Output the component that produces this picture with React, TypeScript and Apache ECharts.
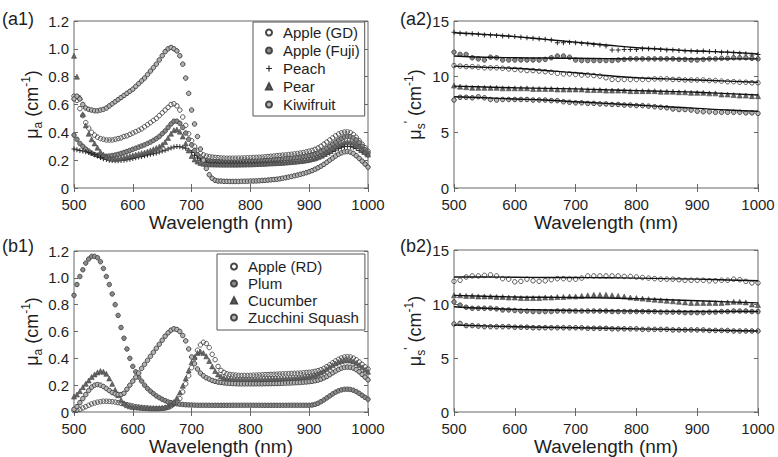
import React, { useEffect, useRef } from 'react';
import * as echarts from 'echarts';

// Wavelength sampling grids (nm)
const WL5: number[] = Array.from({ length: 101 }, (_, i) => 500 + 5 * i);
const WL10: number[] = Array.from({ length: 51 }, (_, i) => 500 + 10 * i);
const WL50: number[] = [500, 550, 600, 650, 700, 750, 800, 850, 900, 950, 1000];

// ---------- (a1) absorption, 500..1000 step 5 ----------
const a1AppleGD = [
  0.66, 0.63, 0.57, 0.52, 0.47, 0.43, 0.4, 0.38, 0.365, 0.355,
  0.35, 0.345, 0.345, 0.345, 0.35, 0.355, 0.36, 0.37, 0.375, 0.385,
  0.395, 0.405, 0.415, 0.425, 0.44, 0.455, 0.47, 0.485, 0.5, 0.52,
  0.54, 0.56, 0.58, 0.6, 0.605, 0.59, 0.56, 0.51, 0.45, 0.39,
  0.34, 0.3, 0.27, 0.25, 0.238, 0.23, 0.225, 0.222, 0.22, 0.218,
  0.216, 0.215, 0.214, 0.214, 0.214, 0.214, 0.215, 0.215, 0.216, 0.217,
  0.218, 0.219, 0.22, 0.221, 0.222, 0.224, 0.226, 0.228, 0.23, 0.232,
  0.234, 0.236, 0.238, 0.24, 0.242, 0.245, 0.248, 0.251, 0.255, 0.26,
  0.265, 0.27, 0.278, 0.288, 0.3, 0.315, 0.33, 0.345, 0.36, 0.375,
  0.388, 0.397, 0.402, 0.403, 0.398, 0.385, 0.365, 0.34, 0.315, 0.29,
  0.265,
];
const a1AppleFuji = [
  0.38, 0.35, 0.32, 0.3, 0.28, 0.265, 0.25, 0.24, 0.235, 0.23,
  0.228, 0.228, 0.23, 0.233, 0.237, 0.242, 0.248, 0.255, 0.262, 0.27,
  0.278, 0.286, 0.294, 0.302, 0.31, 0.32, 0.33, 0.342, 0.355, 0.37,
  0.39, 0.41, 0.435, 0.46, 0.48, 0.48, 0.465, 0.435, 0.395, 0.35,
  0.31, 0.27, 0.24, 0.22, 0.205, 0.197, 0.192, 0.19, 0.188, 0.187,
  0.186, 0.185, 0.185, 0.185, 0.185, 0.185, 0.186, 0.187, 0.188, 0.189,
  0.19, 0.191, 0.192, 0.193, 0.194, 0.195, 0.197, 0.199, 0.201, 0.203,
  0.205, 0.207, 0.209, 0.211, 0.213, 0.215, 0.218, 0.221, 0.224, 0.228,
  0.232, 0.237, 0.243, 0.25, 0.26, 0.272, 0.285, 0.3, 0.315, 0.33,
  0.345, 0.357, 0.366, 0.37, 0.368, 0.36, 0.345, 0.325, 0.3, 0.275,
  0.25,
];
const a1Peach = [
  0.28, 0.275, 0.27, 0.265, 0.26, 0.255, 0.25, 0.24, 0.23, 0.22,
  0.21, 0.205, 0.2, 0.197, 0.195, 0.195, 0.197, 0.2, 0.203, 0.207,
  0.212, 0.217, 0.222, 0.227, 0.232, 0.237, 0.242, 0.247, 0.252, 0.258,
  0.265, 0.272, 0.28, 0.288, 0.295, 0.298, 0.297, 0.293, 0.285, 0.272,
  0.255, 0.235, 0.215, 0.2, 0.19, 0.185, 0.182, 0.18, 0.179, 0.178,
  0.178, 0.177, 0.177, 0.177, 0.177, 0.177, 0.177, 0.177, 0.177, 0.177,
  0.177, 0.177, 0.178, 0.178, 0.178, 0.179, 0.179, 0.18, 0.18, 0.181,
  0.182, 0.183, 0.184, 0.185, 0.186, 0.188, 0.19, 0.192, 0.194, 0.197,
  0.2, 0.204, 0.209, 0.215, 0.222, 0.23, 0.24, 0.25, 0.262, 0.273,
  0.283, 0.292, 0.298, 0.3, 0.298, 0.292, 0.283, 0.27, 0.257, 0.245,
  0.235,
];
const a1Pear = [
  0.95, 0.8, 0.65, 0.53, 0.45, 0.39, 0.35, 0.32, 0.29, 0.26,
  0.24, 0.225, 0.215, 0.21, 0.21, 0.212, 0.215, 0.22, 0.225, 0.23,
  0.235, 0.24, 0.245, 0.25, 0.255, 0.262, 0.27, 0.278, 0.287, 0.297,
  0.31, 0.33, 0.36, 0.39, 0.415, 0.42, 0.405, 0.37, 0.32, 0.27,
  0.23, 0.205, 0.19, 0.18, 0.175, 0.172, 0.17, 0.17, 0.169, 0.169,
  0.168, 0.168, 0.168, 0.168, 0.168, 0.168, 0.168, 0.169, 0.169, 0.17,
  0.17, 0.171, 0.172, 0.173, 0.174, 0.175, 0.176, 0.177, 0.178, 0.179,
  0.18, 0.181, 0.183, 0.185, 0.187, 0.189, 0.191, 0.193, 0.196, 0.199,
  0.203, 0.208, 0.214, 0.222, 0.232, 0.244, 0.258, 0.272, 0.287, 0.3,
  0.312, 0.322, 0.33, 0.333, 0.332, 0.326, 0.315, 0.3, 0.28, 0.26,
  0.24,
];
const a1Kiwi = [
  0.64, 0.66, 0.64, 0.6, 0.575, 0.565, 0.56, 0.555, 0.555, 0.56,
  0.565, 0.575, 0.59, 0.605, 0.62, 0.635, 0.65, 0.665, 0.68, 0.695,
  0.71, 0.73, 0.75, 0.77, 0.79, 0.815, 0.84, 0.865, 0.89, 0.92,
  0.95, 0.98, 1.0, 1.01, 1.0, 0.985, 0.95, 0.89, 0.79, 0.68,
  0.56, 0.46, 0.37, 0.28, 0.2, 0.14, 0.095, 0.07, 0.055, 0.05,
  0.05, 0.048, 0.048, 0.047, 0.047, 0.047, 0.047, 0.048, 0.048, 0.049,
  0.05, 0.05, 0.051, 0.052, 0.054, 0.055, 0.057, 0.059, 0.061, 0.063,
  0.066, 0.07, 0.074, 0.078, 0.083, 0.088, 0.093, 0.098, 0.104, 0.11,
  0.117, 0.125, 0.135, 0.145, 0.157, 0.17, 0.185, 0.2, 0.215, 0.23,
  0.243, 0.253, 0.26, 0.262, 0.258, 0.248, 0.232, 0.213, 0.193, 0.172,
  0.15,
];

// ---------- (b1) absorption, 500..1000 step 5 ----------
const b1AppleRD = [
  0.01, 0.015, 0.02, 0.03, 0.04, 0.05, 0.06, 0.067, 0.073, 0.077,
  0.08, 0.08, 0.079, 0.077, 0.074, 0.07, 0.065, 0.06, 0.055, 0.05,
  0.045, 0.04, 0.037, 0.034, 0.032, 0.03, 0.028, 0.027, 0.026, 0.026,
  0.027, 0.03, 0.035, 0.045, 0.06, 0.075, 0.1, 0.15, 0.21, 0.27,
  0.33, 0.4, 0.46, 0.5, 0.52, 0.51, 0.48, 0.43, 0.39, 0.34,
  0.31, 0.295, 0.285, 0.28, 0.277, 0.275, 0.273, 0.272, 0.272, 0.272,
  0.273, 0.274, 0.275, 0.276, 0.277, 0.278, 0.279, 0.28, 0.281, 0.282,
  0.283, 0.284, 0.285, 0.286, 0.287, 0.288, 0.289, 0.29, 0.292, 0.294,
  0.296, 0.299, 0.303, 0.308, 0.315, 0.325, 0.338, 0.352, 0.367, 0.381,
  0.393, 0.403, 0.41, 0.412, 0.41, 0.402, 0.39, 0.373, 0.355, 0.337,
  0.32,
];
const b1Plum = [
  0.87, 0.95, 1.01, 1.06, 1.11, 1.14, 1.16, 1.16, 1.15, 1.12,
  1.07, 1.01, 0.95, 0.88, 0.8, 0.72, 0.63, 0.55, 0.47, 0.4,
  0.34, 0.3, 0.26, 0.23, 0.2, 0.175, 0.155, 0.137, 0.12, 0.107,
  0.095, 0.085, 0.075, 0.07, 0.065, 0.061, 0.058, 0.056, 0.054, 0.053,
  0.052, 0.051, 0.05, 0.05, 0.05, 0.05, 0.05, 0.05, 0.05, 0.05,
  0.05, 0.05, 0.05, 0.05, 0.05, 0.05, 0.05, 0.05, 0.05, 0.05,
  0.05, 0.05, 0.05, 0.05, 0.05, 0.05, 0.05, 0.05, 0.05, 0.05,
  0.05, 0.05, 0.05, 0.05, 0.05, 0.05, 0.05, 0.05, 0.05, 0.05,
  0.05, 0.052, 0.057, 0.065, 0.077, 0.09, 0.105, 0.12, 0.135, 0.148,
  0.158, 0.165, 0.169, 0.17, 0.168, 0.162, 0.152, 0.139, 0.124, 0.109,
  0.095,
];
const b1Cucumber = [
  0.115, 0.13, 0.155, 0.185, 0.21, 0.235, 0.26, 0.28, 0.295, 0.305,
  0.3, 0.285, 0.25, 0.21, 0.165, 0.125, 0.09, 0.065, 0.05, 0.042,
  0.038, 0.035, 0.033, 0.031, 0.03, 0.029, 0.028, 0.028, 0.028, 0.029,
  0.031, 0.035, 0.042, 0.055, 0.075, 0.105, 0.145, 0.195, 0.25, 0.31,
  0.37, 0.41, 0.44, 0.45, 0.44, 0.415, 0.38, 0.34, 0.305, 0.28,
  0.265, 0.255, 0.25, 0.247, 0.245, 0.244, 0.243, 0.243, 0.243, 0.243,
  0.243, 0.243, 0.244, 0.244, 0.245, 0.245, 0.246, 0.246, 0.247, 0.247,
  0.248, 0.249, 0.25, 0.251, 0.252, 0.254, 0.256, 0.258, 0.26, 0.263,
  0.266, 0.27, 0.276, 0.284, 0.294, 0.306, 0.32, 0.335, 0.35, 0.362,
  0.372, 0.38, 0.385, 0.386, 0.384, 0.377, 0.366, 0.35, 0.333, 0.315,
  0.3,
];
const b1Zucchini = [
  0.02, 0.04, 0.07, 0.1, 0.13, 0.16, 0.185, 0.2, 0.205, 0.2,
  0.19, 0.175, 0.16, 0.145, 0.135, 0.13, 0.13, 0.14, 0.17, 0.2,
  0.23, 0.26, 0.29, 0.325, 0.355, 0.385, 0.415, 0.445, 0.475, 0.505,
  0.535, 0.565, 0.59, 0.61, 0.62, 0.615, 0.6, 0.57, 0.53, 0.47,
  0.41, 0.36, 0.32, 0.29, 0.27, 0.255, 0.245, 0.235, 0.228, 0.223,
  0.22, 0.217, 0.215, 0.213, 0.212, 0.211, 0.21, 0.21, 0.21, 0.21,
  0.21, 0.21, 0.21, 0.21, 0.21, 0.211, 0.211, 0.212, 0.212, 0.213,
  0.213, 0.214, 0.215, 0.216, 0.217, 0.218, 0.219, 0.22, 0.222, 0.224,
  0.226, 0.229, 0.233, 0.238, 0.245, 0.254, 0.265, 0.278, 0.292, 0.305,
  0.317, 0.327, 0.333, 0.335, 0.333, 0.327, 0.316, 0.3, 0.28, 0.26,
  0.24,
];

// ---------- (a2) reduced scattering, 500..1000 step 10 ----------
const a2S1 = [
  14.0, 13.9, 13.85, 13.85, 13.8, 13.75, 13.75, 13.7, 13.65, 13.62,
  13.6, 13.55, 13.5, 13.45, 13.4, 13.35, 13.3, 13.05, 13.05, 13.1,
  13.05, 13.0, 12.95, 12.9, 12.85, 12.75, 12.4, 12.4, 12.45, 12.45,
  12.45, 12.5, 12.5, 12.5, 12.45, 12.4, 12.4, 12.35, 12.3, 12.3,
  12.25, 12.3, 12.25, 12.25, 12.2, 12.2, 12.15, 12.1, 12.05, 11.95,
  12.0,
];
const a2S2 = [
  12.2, 12.0, 12.0, 11.7, 11.6, 11.5, 11.75, 11.7, 11.5, 11.5,
  11.5, 11.5, 11.5, 11.5, 11.5, 11.55, 11.7, 11.85, 11.85, 11.75,
  11.5, 11.45, 11.45, 11.45, 11.45, 11.45, 11.45, 11.5, 11.55, 11.6,
  11.6, 11.6, 11.6, 11.6, 11.6, 11.6, 11.6, 11.55, 11.55, 11.5,
  11.5, 11.55, 11.6, 11.6, 11.65, 11.65, 11.7, 11.7, 11.7, 11.65,
  11.6,
];
const a2S3 = [
  11.0, 10.95, 10.9, 10.9, 10.85, 10.8, 10.8, 10.8, 10.75, 10.7,
  10.65, 10.6, 10.55, 10.55, 10.5, 10.45, 10.4, 10.3, 10.25, 10.25,
  10.2, 10.15, 10.15, 10.1, 10.05, 9.9, 9.75, 9.75, 9.75, 9.75,
  9.75, 9.75, 9.75, 9.8, 9.8, 9.8, 9.75, 9.75, 9.7, 9.7,
  9.7, 9.7, 9.65, 9.65, 9.6, 9.55, 9.55, 9.5, 9.5, 9.45,
  9.45,
];
const a2S4 = [
  9.2, 9.1, 9.05, 9.0, 9.0, 9.0, 9.0, 9.0, 8.95, 8.95,
  8.95, 8.95, 8.95, 8.9, 8.9, 8.9, 8.9, 8.85, 8.85, 8.85,
  8.85, 8.85, 8.8, 8.8, 8.8, 8.75, 8.75, 8.75, 8.75, 8.7,
  8.7, 8.7, 8.7, 8.7, 8.65, 8.65, 8.65, 8.6, 8.6, 8.55,
  8.55, 8.55, 8.5, 8.5, 8.4, 8.4, 8.35, 8.3, 8.3, 8.25,
  8.25,
];
const a2S5 = [
  7.9, 8.15, 8.15, 8.1, 8.2, 8.1, 7.95, 7.9, 7.95, 7.95,
  7.95, 7.95, 7.95, 7.9, 7.9, 7.9, 7.85, 7.85, 7.75, 7.7,
  7.65, 7.65, 7.6, 7.6, 7.55, 7.55, 7.5, 7.5, 7.45, 7.45,
  7.4, 7.4, 7.35, 7.3, 7.25, 7.2, 7.1, 7.05, 7.05, 7.0,
  6.9, 6.85, 6.85, 6.8, 6.8, 6.8, 6.8, 6.8, 6.75, 6.75,
  6.7,
];
// fitted curves, 500..1000 step 50
const a2Fit1 = [13.95, 13.8, 13.6, 13.35, 13.1, 12.85, 12.6, 12.45, 12.3, 12.2, 12.05];
const a2Fit2 = [11.85, 11.75, 11.7, 11.67, 11.65, 11.62, 11.6, 11.6, 11.6, 11.6, 11.6];
const a2Fit3 = [10.95, 10.85, 10.75, 10.55, 10.35, 10.1, 9.9, 9.8, 9.7, 9.6, 9.5];
const a2Fit4 = [9.15, 9.07, 9.0, 8.95, 8.9, 8.82, 8.75, 8.68, 8.6, 8.48, 8.35];
const a2Fit5 = [8.2, 8.1, 8.0, 7.9, 7.75, 7.6, 7.45, 7.3, 7.15, 7.0, 6.9];

// ---------- (b2) reduced scattering, 500..1000 step 10 ----------
const b2S1 = [
  12.1, 12.2, 12.5, 12.6, 12.6, 12.65, 12.7, 12.6, 12.35, 12.3,
  12.05, 12.1, 12.3, 12.15, 12.1, 12.15, 12.25, 12.35, 12.35, 12.3,
  12.3, 12.4, 12.6, 12.6, 12.6, 12.6, 12.6, 12.6, 12.55, 12.55,
  12.5, 12.45, 12.4, 12.35, 12.3, 12.3, 12.3, 12.25, 12.2, 12.2,
  12.2, 12.2, 12.15, 12.15, 12.2, 12.2, 12.3, 12.25, 12.1, 11.95,
  11.95,
];
const b2S2 = [
  10.8, 10.8, 10.75, 10.75, 10.7, 10.7, 10.7, 10.65, 10.65, 10.6,
  10.6, 10.55, 10.55, 10.55, 10.55, 10.6, 10.6, 10.65, 10.65, 10.7,
  10.7, 10.75, 10.8, 10.85, 10.85, 10.85, 10.8, 10.75, 10.7, 10.6,
  10.55, 10.5, 10.45, 10.4, 10.35, 10.3, 10.25, 10.2, 10.15, 10.1,
  10.1, 10.1, 10.1, 10.1, 10.1, 10.15, 10.2, 10.2, 10.15, 9.95,
  9.9,
];
const b2S3 = [
  10.2, 9.9, 9.7, 9.6, 9.6, 9.6, 9.6, 9.55, 9.45, 9.45,
  9.4, 9.35, 9.35, 9.3, 9.3, 9.3, 9.3, 9.35, 9.35, 9.35,
  9.35, 9.35, 9.35, 9.35, 9.35, 9.35, 9.3, 9.3, 9.3, 9.3,
  9.3, 9.3, 9.3, 9.3, 9.25, 9.25, 9.25, 9.25, 9.2, 9.2,
  9.2, 9.2, 9.25, 9.25, 9.3, 9.3, 9.35, 9.35, 9.35, 9.3,
  9.3,
];
const b2S4 = [
  8.15, 8.2, 8.0, 8.0, 7.95, 7.9, 7.9, 7.9, 7.9, 7.9,
  7.85, 7.85, 7.85, 7.8, 7.8, 7.8, 7.8, 7.8, 7.8, 7.8,
  7.8, 7.8, 7.75, 7.75, 7.75, 7.75, 7.7, 7.7, 7.7, 7.7,
  7.7, 7.65, 7.65, 7.65, 7.65, 7.65, 7.6, 7.6, 7.6, 7.6,
  7.6, 7.6, 7.55, 7.55, 7.55, 7.55, 7.5, 7.5, 7.5, 7.5,
  7.5,
];
const b2Fit1 = [12.5, 12.5, 12.48, 12.46, 12.45, 12.43, 12.4, 12.35, 12.3, 12.22, 12.15];
const b2Fit2 = [10.8, 10.72, 10.65, 10.62, 10.6, 10.55, 10.5, 10.4, 10.3, 10.2, 10.1];
const b2Fit3 = [9.75, 9.6, 9.5, 9.45, 9.4, 9.38, 9.35, 9.32, 9.3, 9.3, 9.3];
const b2Fit4 = [8.05, 7.97, 7.9, 7.85, 7.8, 7.75, 7.7, 7.65, 7.6, 7.55, 7.5];

const LEGEND_A = ['Apple (GD)', 'Apple (Fuji)', 'Peach', 'Pear', 'Kiwifruit'];
const LEGEND_B = ['Apple (RD)', 'Plum', 'Cucumber', 'Zucchini Squash'];
const PANEL_LABELS = ['(a1)', '(a2)', '(b1)', '(b2)'];

const FONT = '"Liberation Sans", Arial, Helvetica, sans-serif';
const TXT = '#1e1e1e';
const MK = '#454545';
const FRAME = '#666666';
const PLUS = 'path://M4 0H6V4H10V6H6V10H4V6H0V4H4Z';

const pairs = (xs: number[], ys: number[]) => xs.map((x, i) => [x, ys[i]]);

type Mk = { symbol: string; color: string; border: string; bw: number; size: number };
const OPEN: Mk = { symbol: 'circle', color: 'rgba(255,255,255,0)', border: MK, bw: 0.9, size: 4.5 };
const FILLED: Mk = { symbol: 'circle', color: '#8a8a8a', border: MK, bw: 0.9, size: 4.5 };
const DOTTED: Mk = { symbol: 'circle', color: '#b4b4b4', border: MK, bw: 1, size: 4.5 };
const TRI: Mk = { symbol: 'triangle', color: '#666', border: MK, bw: 0.6, size: 5 };
const CROSS: Mk = { symbol: PLUS, color: '#2a2a2a', border: '#2a2a2a', bw: 0, size: 5 };

function scatter(name: string, xs: number[], ys: number[], g: number, m: Mk) {
  return {
    type: 'scatter',
    name,
    xAxisIndex: 2 * g,
    yAxisIndex: 2 * g,
    data: pairs(xs, ys),
    symbol: m.symbol,
    symbolSize: m.size,
    itemStyle: { color: m.color, borderColor: m.border, borderWidth: m.bw, opacity: 1 },
    emphasis: { disabled: true },
    silent: true,
  };
}

function fit(name: string, ys: number[], g: number) {
  return {
    type: 'line',
    name,
    xAxisIndex: 2 * g,
    yAxisIndex: 2 * g,
    data: pairs(WL50, ys),
    smooth: true,
    showSymbol: false,
    symbol: 'none',
    lineStyle: { color: '#111', width: 1.4 },
    silent: true,
    z: 5,
  };
}

const GRIDS = [
  { left: 74, top: 21, width: 294, height: 167 },
  { left: 454, top: 21, width: 304, height: 167 },
  { left: 74, top: 251, width: 294, height: 163 },
  { left: 454, top: 250, width: 304, height: 164 },
];

const tickStyle = { inside: true, length: 4, lineStyle: { color: FRAME, width: 1 } };

function buildAxes() {
  const xAxis: any[] = [];
  const yAxis: any[] = [];
  GRIDS.forEach((_, g) => {
    const isMu = g === 0 || g === 2;
    xAxis.push({
      type: 'value', gridIndex: g, min: 500, max: 1000, interval: 100, position: 'bottom',
      axisLine: { show: false }, axisTick: tickStyle, splitLine: { show: false },
      axisLabel: {
        fontFamily: FONT, fontSize: 15, color: TXT, margin: 9, lineHeight: 14,
        showMaxLabel: true, showMinLabel: true, formatter: (v: number) => String(v),
      },
      name: 'Wavelength (nm)', nameLocation: 'middle', nameGap: 25,
      nameTextStyle: { fontFamily: FONT, fontSize: 19, color: TXT },
    });
    xAxis.push({
      type: 'value', gridIndex: g, min: 500, max: 1000, interval: 100, position: 'top',
      axisLine: { show: false }, axisTick: tickStyle, splitLine: { show: false },
      axisLabel: { show: false },
    });
    const yMax = isMu ? 1.2 : 15;
    const yInt = isMu ? 0.2 : 5;
    const richBase = { fontFamily: FONT, color: TXT };
    yAxis.push({
      type: 'value', gridIndex: g, min: 0, max: yMax, interval: yInt, position: 'left',
      axisLine: { show: false }, axisTick: tickStyle, splitLine: { show: false },
      axisLabel: {
        fontFamily: FONT, fontSize: 15, color: TXT, margin: 5, lineHeight: 12,
        formatter: (v: number) => (isMu ? (v === 0 ? '0' : v.toFixed(1)) : String(v)),
      },
      name: isMu ? '{m|μ}{sub|a}{m| (cm}{sup|-1}{m|)}' : "{m|μ}{sub|s}{sup|'}{m| (cm}{sup|-1}{m|)}",
      nameLocation: 'middle', nameGap: 27, nameRotate: 90,
      nameTextStyle: {
        ...richBase, fontSize: 18,
        rich: {
          m: { ...richBase, fontSize: 18, lineHeight: 24, verticalAlign: 'middle' },
          sub: { ...richBase, fontSize: 12, lineHeight: 12, verticalAlign: 'bottom' },
          sup: { ...richBase, fontSize: 12, lineHeight: 12, verticalAlign: 'top' },
        },
      },
    });
    yAxis.push({
      type: 'value', gridIndex: g, min: 0, max: yMax, interval: yInt, position: 'right',
      axisLine: { show: false }, axisTick: tickStyle, splitLine: { show: false },
      axisLabel: { show: false },
    });
  });
  return { xAxis, yAxis };
}

function buildOption() {
  const { xAxis, yAxis } = buildAxes();
  const series: any[] = [
    scatter('Apple (GD)', WL5, a1AppleGD, 0, OPEN),
    scatter('Apple (Fuji)', WL5, a1AppleFuji, 0, FILLED),
    scatter('Peach', WL5, a1Peach, 0, CROSS),
    scatter('Pear', WL5, a1Pear, 0, TRI),
    scatter('Kiwifruit', WL5, a1Kiwi, 0, DOTTED),

    scatter('a2-1', WL10, a2S1, 1, CROSS),
    scatter('a2-2', WL10, a2S2, 1, FILLED),
    scatter('a2-3', WL10, a2S3, 1, OPEN),
    scatter('a2-4', WL10, a2S4, 1, TRI),
    scatter('a2-5', WL10, a2S5, 1, DOTTED),
    fit('a2-fit1', a2Fit1, 1),
    fit('a2-fit2', a2Fit2, 1),
    fit('a2-fit3', a2Fit3, 1),
    fit('a2-fit4', a2Fit4, 1),
    fit('a2-fit5', a2Fit5, 1),

    scatter('Apple (RD)', WL5, b1AppleRD, 2, OPEN),
    scatter('Plum', WL5, b1Plum, 2, FILLED),
    scatter('Cucumber', WL5, b1Cucumber, 2, TRI),
    scatter('Zucchini Squash', WL5, b1Zucchini, 2, DOTTED),

    scatter('b2-1', WL10, b2S1, 3, OPEN),
    scatter('b2-2', WL10, b2S2, 3, TRI),
    scatter('b2-3', WL10, b2S3, 3, FILLED),
    scatter('b2-4', WL10, b2S4, 3, DOTTED),
    fit('b2-fit1', b2Fit1, 3),
    fit('b2-fit2', b2Fit2, 3),
    fit('b2-fit3', b2Fit3, 3),
    fit('b2-fit4', b2Fit4, 3),
  ];

  const legendCommon = {
    orient: 'vertical',
    selectedMode: false,
    backgroundColor: '#ffffff',
    borderColor: '#555',
    borderWidth: 1,
    itemWidth: 6,
    itemHeight: 6,
    textStyle: { fontFamily: FONT, fontSize: 15, color: TXT, padding: [0, 0, 0, 6] },
  };

  const panelTexts = PANEL_LABELS.map((t, i) => ({
    type: 'text',
    left: i % 2 === 0 ? 2 : 400,
    top: i < 2 ? 10 : 237,
    style: { text: t, fontFamily: FONT, fontSize: 18, fill: TXT },
    silent: true,
  }));

  return {
    animation: false,
    backgroundColor: '#ffffff',
    textStyle: { fontFamily: FONT },
    grid: GRIDS.map((g) => ({ ...g, show: true, borderColor: FRAME, borderWidth: 1, backgroundColor: 'transparent' })),
    xAxis,
    yAxis,
    legend: [
      { ...legendCommon, data: LEGEND_A, left: 253, top: 22, itemGap: 3, padding: [3, 5, 4, 12] },
      { ...legendCommon, data: LEGEND_B, left: 217, top: 254, itemGap: 2, padding: [5, 6, 5, 13] },
    ],
    graphic: panelTexts,
    series,
  };
}

export default function App() {
  const ref = useRef<HTMLDivElement>(null);
  useEffect(() => {
    document.body.style.margin = '0';
    if (!ref.current) return;
    const chart = echarts.init(ref.current, undefined, { renderer: 'svg' });
    chart.setOption(buildOption() as any);
    return () => chart.dispose();
  }, []);
  return <div ref={ref} style={{ width: 778, height: 457 }} />;
}
